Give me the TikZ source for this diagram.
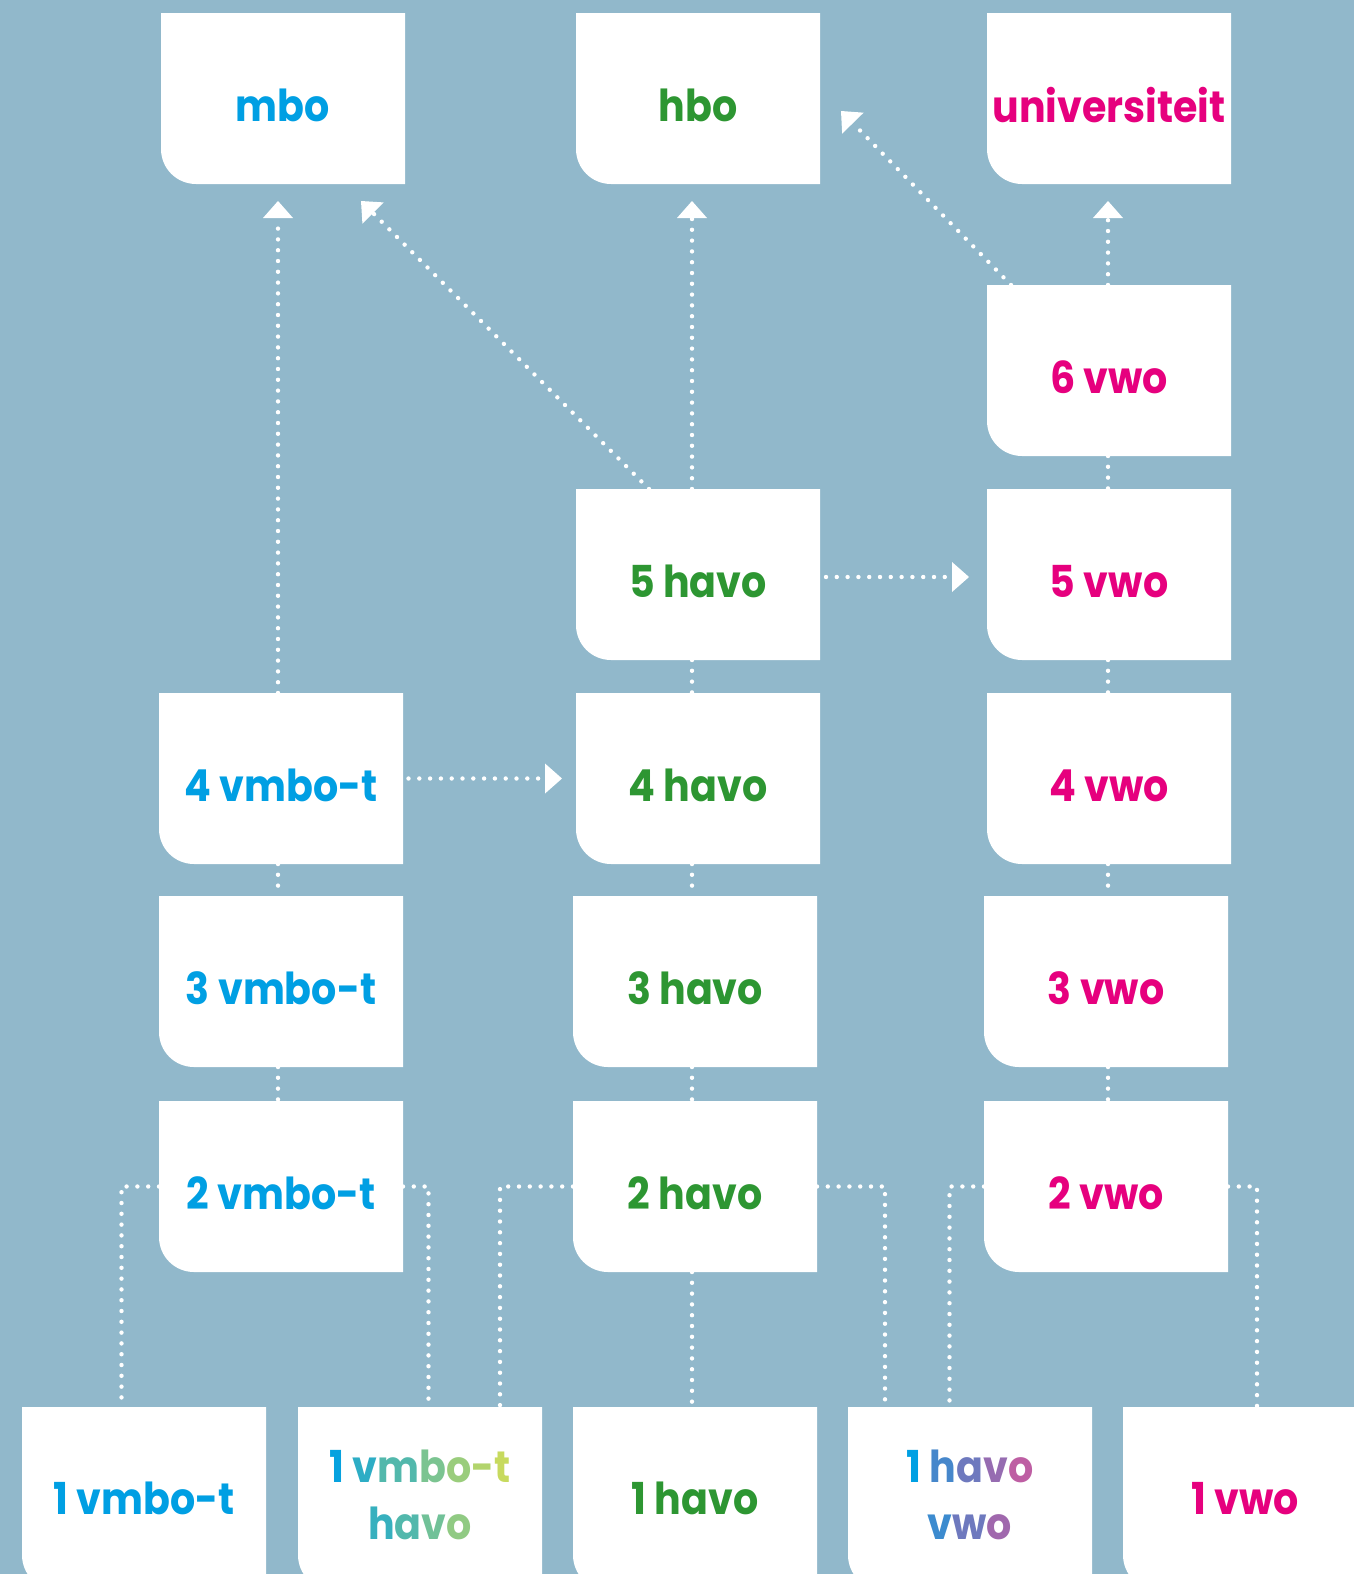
\documentclass[tikz,border=0pt]{standalone}
\usepackage{fontspec}
\setmainfont{Poppins}[FakeStretch=0.9]
\usetikzlibrary{arrows.meta,calc,backgrounds}
\definecolor{bgc}{RGB}{145,184,203}
\definecolor{cblue}{RGB}{0,159,227}
\definecolor{cgreen}{RGB}{45,150,50}
\definecolor{cmag}{RGB}{230,0,126}
\definecolor{gA}{RGB}{0,160,227}
\definecolor{gB}{RGB}{205,220,90}
\definecolor{gC}{RGB}{200,90,160}
\newcommand\lowr[1]{\raisebox{-3.5pt}[\height][\depth]{#1}}
\newcommand\upr[1]{\raisebox{2pt}[\height][\depth]{#1}}
\newcommand\gb[2]{\textcolor{gB!#1!gA}{#2}}
\newcommand\gm[2]{\textcolor{gC!#1!gA}{#2}}
\begin{document}
\begin{tikzpicture}[x=0.5pt,y=-0.5pt,
  box/.style={minimum width=122pt, minimum height=85.5pt, inner sep=0pt, outer sep=0pt,
    font=\fontsize{22}{28.5}\selectfont\bfseries, align=center},
  lowbox/.style={box, minimum height=91.5pt},
  dotline/.style={white, line width=2.2pt, line cap=round, dash pattern=on 0pt off 5.4pt},
  arr/.style={dotline, -{Triangle[width=15pt,length=8.5pt,line width=0pt]}}
]
\useasboundingbox (0,0) rectangle (1354,1574);
% top row
\node[box, text=cblue] (mbo) at (283,98.5) {\lowr{mbo}};
\node[box, text=cgreen] (hbo) at (698,98.5) {\lowr{hbo}};
\node[box, text=cmag] (uni) at (1109,98.5) {\lowr{universiteit}};
% vwo 6
\node[box, text=cmag] (v6) at (1109,370.5) {\lowr{6 vwo}};
% row 5
\node[box, text=cgreen] (h5) at (698,574.5) {\lowr{5 havo}};
\node[box, text=cmag] (v5) at (1109,574.5) {\lowr{5 vwo}};
% row 4
\node[box, text=cblue] (vm4) at (281,778.5) {\lowr{4 vmbo-t}};
\node[box, text=cgreen] (h4) at (698,778.5) {\lowr{4 havo}};
\node[box, text=cmag] (v4) at (1109,778.5) {\lowr{4 vwo}};
% row 3
\node[box, text=cblue] (vm3) at (281,981.5) {\lowr{3 vmbo-t}};
\node[box, text=cgreen] (h3) at (695,981.5) {\lowr{3 havo}};
\node[box, text=cmag] (v3) at (1106,981.5) {\lowr{3 vwo}};
% row 2
\node[box, text=cblue] (vm2) at (281,1186.5) {\lowr{2 vmbo-t}};
\node[box, text=cgreen] (h2) at (695,1186.5) {\lowr{2 havo}};
\node[box, text=cmag] (v2) at (1106,1186.5) {\lowr{2 vwo}};
% bottom row
\node[lowbox, text=cblue] (b1) at (144,1498.5) {1 vmbo-t};
\node[lowbox] (b2) at (420,1498.5) {\upr{\gb{3}{1} \gb{22}{v}\gb{40}{m}\gb{60}{b}\gb{75}{o}\gb{87}{-}\gb{97}{t}}\\\upr{\gb{27}{h}\gb{40}{a}\gb{55}{v}\gb{70}{o}}};
\node[lowbox, text=cgreen] (b3) at (695,1498.5) {1 havo};
\node[lowbox] (b4) at (970,1498.5) {\upr{\gm{0}{1} \gm{35}{h}\gm{55}{a}\gm{75}{v}\gm{95}{o}}\\\upr{\gm{30}{v}\gm{55}{w}\gm{80}{o}}};
\node[lowbox, text=cmag] (b5) at (1245,1498.5) {1 vwo};
% backgrounds
\begin{scope}[on background layer]
\fill[bgc] (0,0) rectangle (1354,1574);
\foreach \n in {mbo,hbo,uni,v6,h5,v5,vm4,h4,v4,vm3,h3,v3,vm2,h2,v2,b1,b2,b3,b4,b5}
  \fill[white] (\n.north west) -- (\n.north east) -- (\n.south east)
    -- ([xshift=17.5pt]\n.south west)
    .. controls ([xshift=7.8pt]\n.south west) and ([yshift=7.8pt]\n.south west) ..
    ([yshift=17.5pt]\n.south west) -- cycle;
\end{scope}
% column coordinates
\coordinate (c1) at (278,0);
\coordinate (c2) at (692,0);
\coordinate (c3) at (1108,0);
\coordinate (e1) at (121.5,0);
\coordinate (e2) at (428.5,0);
\coordinate (e3) at (500,0);
\coordinate (e4) at (885,0);
\coordinate (e5) at (949.5,0);
\coordinate (e6) at (1257,0);
\coordinate (r5) at (0,577);
% arrows to top
\draw[arr, shorten >=8.5pt] (vm4.north -| c1) -- (mbo.south -| c1);
\draw[arr] ($(h5.north west)+(73,0)$) -- ($(mbo.south east)+(-44,17)$);
\draw[arr, shorten >=8.5pt] (h5.north -| c2) -- (hbo.south -| c2);
\draw[arr] ($(v6.north west)+(24,0)$) -- ($(hbo.east)+(21,12.5)$);
\draw[arr, shorten >=8.5pt] (v6.north -| c3) -- (uni.south -| c3);
% horizontal arrows
\draw[arr, shorten <=3pt, shorten >=9pt] (h5.east |- r5) -- (v5.west |- r5);
\draw[arr, shorten <=2.75pt, shorten >=7pt] (vm4.east) -- (h4.west);
% vertical links
\draw[dotline] (v6.south -| c3) -- (v5.north -| c3);
\draw[dotline] (h5.south -| c2) -- (h4.north -| c2);
\draw[dotline] (v5.south -| c3) -- (v4.north -| c3);
\draw[dotline] (vm4.south -| c1) -- (vm3.north -| c1);
\draw[dotline] (h4.south -| c2) -- (h3.north -| c2);
\draw[dotline] (v4.south -| c3) -- (v3.north -| c3);
\draw[dotline] (vm3.south -| c1) -- (vm2.north -| c1);
\draw[dotline] (h3.south -| c2) -- (h2.north -| c2);
\draw[dotline] (v3.south -| c3) -- (v2.north -| c3);
\draw[dotline] (h2.south -| c2) -- (b3.north -| c2);
% elbows
\draw[dotline] (vm2.west) -| (e1 |- b1.north);
\draw[dotline] (vm2.east) -| (e2 |- b2.north);
\draw[dotline] (h2.west) -| (e3 |- b2.north);
\draw[dotline] (h2.east) -| (e4 |- b4.north);
\draw[dotline] (v2.west) -| (e5 |- b4.north);
\draw[dotline] (v2.east) -| (e6 |- b5.north);
\end{tikzpicture}
\end{document}
